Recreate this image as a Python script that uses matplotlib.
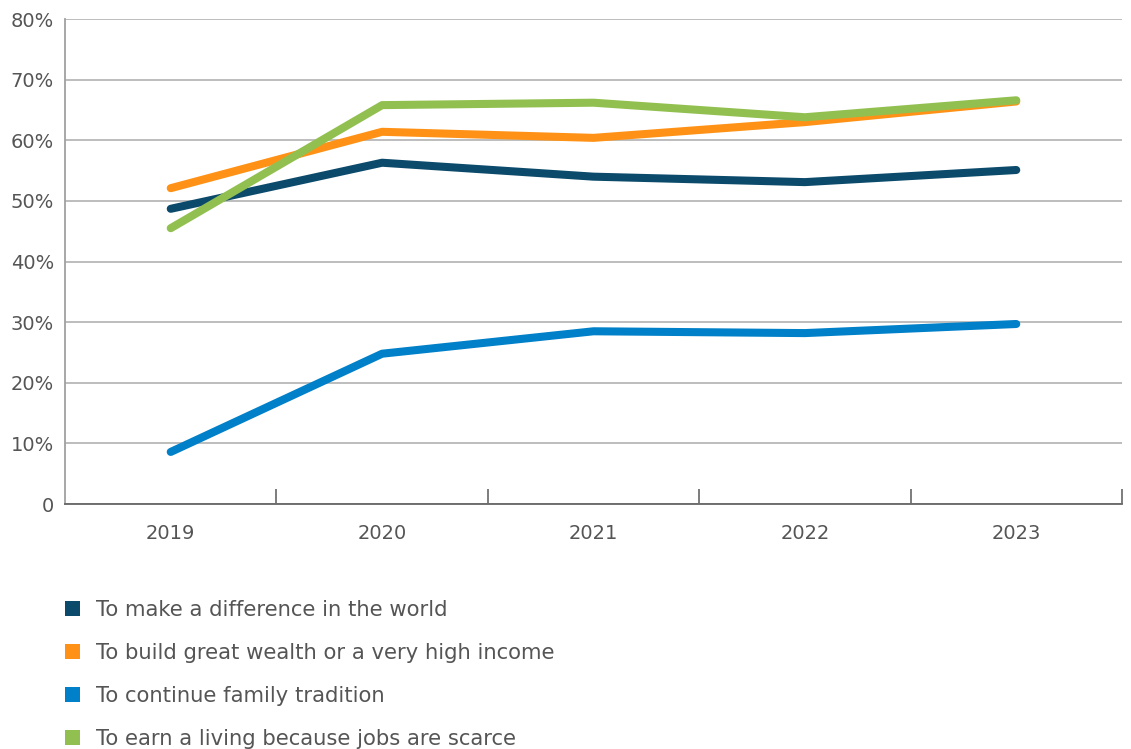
import numpy as np
import matplotlib
matplotlib.use("Agg")
import matplotlib.pyplot as plt
from matplotlib.patches import Patch

# Data (percent)
years = ["2019", "2020", "2021", "2022", "2023"]
difference = [48.7, 56.3, 54.0, 53.1, 55.1]
wealth = [52.1, 61.4, 60.4, 63.0, 66.4]
tradition = [8.6, 24.8, 28.5, 28.2, 29.7]
living = [45.5, 65.8, 66.2, 63.8, 66.6]

labels = [
    "To make a difference in the world",
    "To build great wealth or a very high income",
    "To continue family tradition",
    "To earn a living because jobs are scarce",
]
colors = ["#0b4a6b", "#ff9216", "#0080c8", "#92c050"]

plt.rcParams['font.family'] = ['DejaVu Sans']
text_col = "#555555"

fig = plt.figure(figsize=(11.31, 7.49), dpi=100)
ax = fig.add_axes([0.0575, 0.327, 0.9345, 0.6476])

x = np.arange(len(years))
for vals, c in zip([difference, wealth, tradition, living], colors):
    ax.plot(x, vals, color=c, linewidth=5.8, solid_capstyle='round', solid_joinstyle='round')

ax.set_xlim(-0.5, len(years) - 0.5)
ax.set_ylim(0, 80)
ax.set_yticks(np.arange(0, 81, 10))
ax.set_yticklabels(["0"] + [f"{v}%" for v in range(10, 81, 10)])
ax.yaxis.grid(True, color="#b8b8b8", linewidth=1.3)
ax.set_axisbelow(True)

# category labels at centers, tick marks at boundaries
ax.set_xticks(x)
ax.set_xticklabels(years)
ax.tick_params(axis='x', length=0, pad=14, labelsize=14, labelcolor=text_col)
ax.set_xticks(np.arange(0.5, len(years), 1.0), minor=True)
ax.tick_params(axis='x', which='minor', direction='in', length=11, width=1.2, color="#666666")
ax.tick_params(axis='y', length=0, pad=8, labelsize=14, labelcolor=text_col)

for s in ['top', 'right']:
    ax.spines[s].set_visible(False)
ax.spines['left'].set_color("#a0a0a0")
ax.spines['left'].set_linewidth(1.3)
ax.spines['bottom'].set_color("#666666")
ax.spines['bottom'].set_linewidth(1.3)

handles = [Patch(facecolor=c, edgecolor='none') for c in colors]
fig.legend(handles, labels, loc='upper left', bbox_to_anchor=(0.05, 0.21),
           frameon=False, fontsize=15.2, labelcolor=text_col,
           handlelength=0.72, handleheight=0.72, handletextpad=0.75,
           labelspacing=1.08, borderaxespad=0)

fig.savefig("out.png", dpi=100)
